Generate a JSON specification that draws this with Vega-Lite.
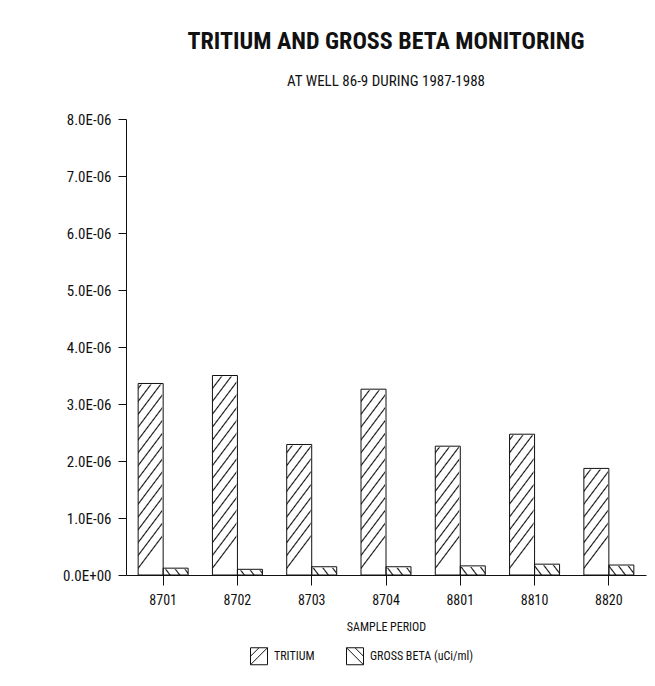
{
  "$schema": "https://vega.github.io/schema/vega-lite/v6.json",
  "autosize": {"type": "none"},
  "width": 520,
  "height": 456,
  "padding": {"left": 126, "top": 119, "right": 9, "bottom": 111},
  "background": "white",
  "title": {
    "text": "TRITIUM AND GROSS BETA MONITORING",
    "subtitle": "AT WELL 86-9 DURING 1987-1988",
    "anchor": "middle",
    "font": "Roboto Condensed, Liberation Sans Narrow, Roboto, sans-serif",
    "fontSize": 24,
    "fontWeight": "bold",
    "color": "#111",
    "subtitleFont": "Roboto Condensed, Liberation Sans Narrow, Roboto, sans-serif",
    "subtitleFontSize": 15,
    "subtitleColor": "#111",
    "subtitlePadding": 20,
    "offset": 23
  },
  "data": {
    "values": [
      {"period": "8701", "series": "TRITIUM", "value": 3.36e-6},
      {"period": "8702", "series": "TRITIUM", "value": 3.50e-6},
      {"period": "8703", "series": "TRITIUM", "value": 2.29e-6},
      {"period": "8704", "series": "TRITIUM", "value": 3.26e-6},
      {"period": "8801", "series": "TRITIUM", "value": 2.26e-6},
      {"period": "8810", "series": "TRITIUM", "value": 2.47e-6},
      {"period": "8820", "series": "TRITIUM", "value": 1.87e-6},
      {"period": "8701", "series": "GROSS BETA (uCi/ml)", "value": 0.12e-6},
      {"period": "8702", "series": "GROSS BETA (uCi/ml)", "value": 0.10e-6},
      {"period": "8703", "series": "GROSS BETA (uCi/ml)", "value": 0.145e-6},
      {"period": "8704", "series": "GROSS BETA (uCi/ml)", "value": 0.145e-6},
      {"period": "8801", "series": "GROSS BETA (uCi/ml)", "value": 0.16e-6},
      {"period": "8810", "series": "GROSS BETA (uCi/ml)", "value": 0.19e-6},
      {"period": "8820", "series": "GROSS BETA (uCi/ml)", "value": 0.175e-6}
    ]
  },
  "encoding": {
    "x": {
      "field": "period",
      "type": "nominal",
      "scale": {"paddingInner": 0.327, "paddingOuter": 0.1635},
      "axis": {
        "title": "SAMPLE PERIOD",
        "labelAngle": 0,
        "tickSize": 10,
        "labelPadding": 8,
        "labelFontSize": 14,
        "titleFontSize": 12,
        "titleFontWeight": "normal",
        "titlePadding": 14
      }
    },
    "xOffset": {
      "field": "series",
      "type": "nominal",
      "sort": ["TRITIUM", "GROSS BETA (uCi/ml)"],
      "scale": {"paddingInner": 0, "paddingOuter": 0}
    }
  },
  "layer": [
    {
      "mark": {"type": "bar", "strokeWidth": 0},
      "encoding": {
        "y": {
          "datum": 8e-6,
          "type": "quantitative",
          "scale": {"domain": [0, 8e-6], "nice": false},
          "axis": {
            "title": null,
            "values": [0, 1e-6, 2e-6, 3e-6, 4e-6, 5e-6, 6e-6, 7e-6, 8e-6],
            "labelExpr": "datum.value == 0 ? '0.0E+00' : format(datum.value * 1e6, '.1f') + 'E-06'",
            "tickSize": 8,
            "labelPadding": 7,
            "labelFontSize": 15,
            "grid": false
          }
        },
        "y2": {"datum": 0},
        "fill": {
          "condition": {
            "test": "datum.series === 'TRITIUM'",
            "value": {"gradient": "linear", "x1": 0, "y1": 0, "x2": 0.0728, "y2": 1, "stops": [
              {"offset":0,"color":"#111"},{"offset":0.004,"color":"#fff"},{"offset":0.024,"color":"#fff"},
              {"offset":0.028,"color":"#111"},{"offset":0.032,"color":"#fff"},{"offset":0.052,"color":"#fff"},
              {"offset":0.056,"color":"#111"},{"offset":0.06,"color":"#fff"},{"offset":0.08,"color":"#fff"},
              {"offset":0.084,"color":"#111"},{"offset":0.088,"color":"#fff"},{"offset":0.108,"color":"#fff"},
              {"offset":0.112,"color":"#111"},{"offset":0.116,"color":"#fff"},{"offset":0.136,"color":"#fff"},
              {"offset":0.14,"color":"#111"},{"offset":0.144,"color":"#fff"},{"offset":0.164,"color":"#fff"},
              {"offset":0.168,"color":"#111"},{"offset":0.172,"color":"#fff"},{"offset":0.192,"color":"#fff"},
              {"offset":0.196,"color":"#111"},{"offset":0.2,"color":"#fff"},{"offset":0.22,"color":"#fff"},
              {"offset":0.224,"color":"#111"},{"offset":0.228,"color":"#fff"},{"offset":0.248,"color":"#fff"},
              {"offset":0.252,"color":"#111"},{"offset":0.256,"color":"#fff"},{"offset":0.276,"color":"#fff"},
              {"offset":0.28,"color":"#111"},{"offset":0.284,"color":"#fff"},{"offset":0.304,"color":"#fff"},
              {"offset":0.308,"color":"#111"},{"offset":0.312,"color":"#fff"},{"offset":0.332,"color":"#fff"},
              {"offset":0.336,"color":"#111"},{"offset":0.34,"color":"#fff"},{"offset":0.36,"color":"#fff"},
              {"offset":0.364,"color":"#111"},{"offset":0.368,"color":"#fff"},{"offset":0.388,"color":"#fff"},
              {"offset":0.392,"color":"#111"},{"offset":0.396,"color":"#fff"},{"offset":0.416,"color":"#fff"},
              {"offset":0.42,"color":"#111"},{"offset":0.424,"color":"#fff"},{"offset":0.444,"color":"#fff"},
              {"offset":0.448,"color":"#111"},{"offset":0.452,"color":"#fff"},{"offset":0.472,"color":"#fff"},
              {"offset":0.476,"color":"#111"},{"offset":0.48,"color":"#fff"},{"offset":0.5,"color":"#fff"},
              {"offset":0.504,"color":"#111"},{"offset":0.508,"color":"#fff"},{"offset":0.528,"color":"#fff"},
              {"offset":0.532,"color":"#111"},{"offset":0.536,"color":"#fff"},{"offset":0.556,"color":"#fff"},
              {"offset":0.56,"color":"#111"},{"offset":0.564,"color":"#fff"},{"offset":0.584,"color":"#fff"},
              {"offset":0.588,"color":"#111"},{"offset":0.592,"color":"#fff"},{"offset":0.612,"color":"#fff"},
              {"offset":0.616,"color":"#111"},{"offset":0.62,"color":"#fff"},{"offset":0.64,"color":"#fff"},
              {"offset":0.644,"color":"#111"},{"offset":0.648,"color":"#fff"},{"offset":0.668,"color":"#fff"},
              {"offset":0.672,"color":"#111"},{"offset":0.676,"color":"#fff"},{"offset":0.696,"color":"#fff"},
              {"offset":0.7,"color":"#111"},{"offset":0.704,"color":"#fff"},{"offset":0.724,"color":"#fff"},
              {"offset":0.728,"color":"#111"},{"offset":0.732,"color":"#fff"},{"offset":0.752,"color":"#fff"},
              {"offset":0.756,"color":"#111"},{"offset":0.76,"color":"#fff"},{"offset":0.78,"color":"#fff"},
              {"offset":0.784,"color":"#111"},{"offset":0.788,"color":"#fff"},{"offset":0.808,"color":"#fff"},
              {"offset":0.812,"color":"#111"},{"offset":0.816,"color":"#fff"},{"offset":0.836,"color":"#fff"},
              {"offset":0.84,"color":"#111"},{"offset":0.844,"color":"#fff"},{"offset":0.864,"color":"#fff"},
              {"offset":0.868,"color":"#111"},{"offset":0.872,"color":"#fff"},{"offset":0.892,"color":"#fff"},
              {"offset":0.896,"color":"#111"},{"offset":0.9,"color":"#fff"},{"offset":0.92,"color":"#fff"},
              {"offset":0.924,"color":"#111"},{"offset":0.928,"color":"#fff"},{"offset":0.948,"color":"#fff"},
              {"offset":0.952,"color":"#111"},{"offset":0.956,"color":"#fff"},{"offset":0.976,"color":"#fff"},
              {"offset":0.98,"color":"#111"},{"offset":0.984,"color":"#fff"},{"offset":1,"color":"#fff"}
            ]}
          },
          "value": {"gradient": "linear", "x1": 0.0728, "y1": 0, "x2": 0, "y2": 1, "stops": [
              {"offset":0,"color":"#111"},{"offset":0.004,"color":"#fff"},{"offset":0.024,"color":"#fff"},
              {"offset":0.028,"color":"#111"},{"offset":0.032,"color":"#fff"},{"offset":0.052,"color":"#fff"},
              {"offset":0.056,"color":"#111"},{"offset":0.06,"color":"#fff"},{"offset":0.08,"color":"#fff"},
              {"offset":0.084,"color":"#111"},{"offset":0.088,"color":"#fff"},{"offset":0.108,"color":"#fff"},
              {"offset":0.112,"color":"#111"},{"offset":0.116,"color":"#fff"},{"offset":0.136,"color":"#fff"},
              {"offset":0.14,"color":"#111"},{"offset":0.144,"color":"#fff"},{"offset":0.164,"color":"#fff"},
              {"offset":0.168,"color":"#111"},{"offset":0.172,"color":"#fff"},{"offset":0.192,"color":"#fff"},
              {"offset":0.196,"color":"#111"},{"offset":0.2,"color":"#fff"},{"offset":0.22,"color":"#fff"},
              {"offset":0.224,"color":"#111"},{"offset":0.228,"color":"#fff"},{"offset":0.248,"color":"#fff"},
              {"offset":0.252,"color":"#111"},{"offset":0.256,"color":"#fff"},{"offset":0.276,"color":"#fff"},
              {"offset":0.28,"color":"#111"},{"offset":0.284,"color":"#fff"},{"offset":0.304,"color":"#fff"},
              {"offset":0.308,"color":"#111"},{"offset":0.312,"color":"#fff"},{"offset":0.332,"color":"#fff"},
              {"offset":0.336,"color":"#111"},{"offset":0.34,"color":"#fff"},{"offset":0.36,"color":"#fff"},
              {"offset":0.364,"color":"#111"},{"offset":0.368,"color":"#fff"},{"offset":0.388,"color":"#fff"},
              {"offset":0.392,"color":"#111"},{"offset":0.396,"color":"#fff"},{"offset":0.416,"color":"#fff"},
              {"offset":0.42,"color":"#111"},{"offset":0.424,"color":"#fff"},{"offset":0.444,"color":"#fff"},
              {"offset":0.448,"color":"#111"},{"offset":0.452,"color":"#fff"},{"offset":0.472,"color":"#fff"},
              {"offset":0.476,"color":"#111"},{"offset":0.48,"color":"#fff"},{"offset":0.5,"color":"#fff"},
              {"offset":0.504,"color":"#111"},{"offset":0.508,"color":"#fff"},{"offset":0.528,"color":"#fff"},
              {"offset":0.532,"color":"#111"},{"offset":0.536,"color":"#fff"},{"offset":0.556,"color":"#fff"},
              {"offset":0.56,"color":"#111"},{"offset":0.564,"color":"#fff"},{"offset":0.584,"color":"#fff"},
              {"offset":0.588,"color":"#111"},{"offset":0.592,"color":"#fff"},{"offset":0.612,"color":"#fff"},
              {"offset":0.616,"color":"#111"},{"offset":0.62,"color":"#fff"},{"offset":0.64,"color":"#fff"},
              {"offset":0.644,"color":"#111"},{"offset":0.648,"color":"#fff"},{"offset":0.668,"color":"#fff"},
              {"offset":0.672,"color":"#111"},{"offset":0.676,"color":"#fff"},{"offset":0.696,"color":"#fff"},
              {"offset":0.7,"color":"#111"},{"offset":0.704,"color":"#fff"},{"offset":0.724,"color":"#fff"},
              {"offset":0.728,"color":"#111"},{"offset":0.732,"color":"#fff"},{"offset":0.752,"color":"#fff"},
              {"offset":0.756,"color":"#111"},{"offset":0.76,"color":"#fff"},{"offset":0.78,"color":"#fff"},
              {"offset":0.784,"color":"#111"},{"offset":0.788,"color":"#fff"},{"offset":0.808,"color":"#fff"},
              {"offset":0.812,"color":"#111"},{"offset":0.816,"color":"#fff"},{"offset":0.836,"color":"#fff"},
              {"offset":0.84,"color":"#111"},{"offset":0.844,"color":"#fff"},{"offset":0.864,"color":"#fff"},
              {"offset":0.868,"color":"#111"},{"offset":0.872,"color":"#fff"},{"offset":0.892,"color":"#fff"},
              {"offset":0.896,"color":"#111"},{"offset":0.9,"color":"#fff"},{"offset":0.92,"color":"#fff"},
              {"offset":0.924,"color":"#111"},{"offset":0.928,"color":"#fff"},{"offset":0.948,"color":"#fff"},
              {"offset":0.952,"color":"#111"},{"offset":0.956,"color":"#fff"},{"offset":0.976,"color":"#fff"},
              {"offset":0.98,"color":"#111"},{"offset":0.984,"color":"#fff"},{"offset":1,"color":"#fff"}
          ]}
        }
      }
    },
    {
      "mark": {"type": "bar", "fill": "white", "stroke": "white", "strokeWidth": 2},
      "encoding": {
        "y": {"field": "value", "type": "quantitative"},
        "y2": {"datum": 8e-6}
      }
    },
    {
      "mark": {"type": "bar", "filled": false, "strokeWidth": 1, "stroke": "#111"},
      "encoding": {
        "y": {"field": "value", "type": "quantitative"},
        "y2": {"datum": 0}
      }
    },
    {
      "mark": {"type": "point", "filled": false, "opacity": 0, "color": "#111", "strokeWidth": 1},
      "encoding": {
        "y": {"field": "value", "type": "quantitative"},
        "shape": {
          "field": "series",
          "type": "nominal",
          "scale": {
            "domain": ["TRITIUM", "GROSS BETA (uCi/ml)"],
            "range": ["M-1,-1H1V1H-1Z M-1,1L1,-1 M-1,0L0,-1", "M-1,-1H1V1H-1Z M-1,-1L1,1 M0,-1L1,0"]
          },
          "legend": {
            "title": null,
            "orient": "none",
            "direction": "horizontal",
            "legendX": 124,
            "legendY": 528,
            "symbolSize": 289,
            "symbolStrokeWidth": 1,
            "symbolOpacity": 1,
            "symbolStrokeColor": "#111",
            "symbolFillColor": "white",
            "labelFontSize": 12,
            "labelOffset": 6,
            "columnPadding": 29
          }
        }
      }
    }
  ],
  "config": {
    "view": {"stroke": null},
    "font": "Roboto Condensed, Liberation Sans Narrow, Roboto, sans-serif",
    "axis": {
      "domainColor": "#111",
      "tickColor": "#111",
      "labelColor": "#111",
      "titleColor": "#111",
      "labelFont": "Roboto Condensed, Liberation Sans Narrow, Roboto, sans-serif",
      "titleFont": "Roboto Condensed, Liberation Sans Narrow, Roboto, sans-serif",
      "domainWidth": 1,
      "tickWidth": 1
    },
    "legend": {
      "labelFont": "Roboto Condensed, Liberation Sans Narrow, Roboto, sans-serif",
      "labelColor": "#111"
    }
  }
}
